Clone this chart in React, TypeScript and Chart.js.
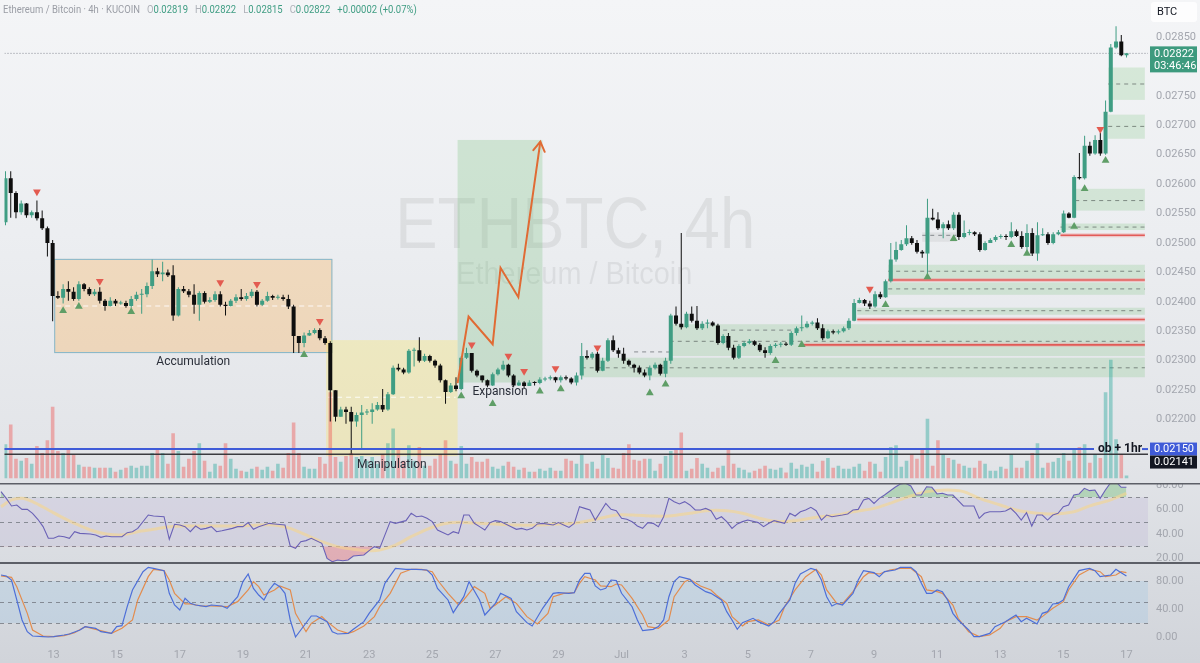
import React, { useEffect, useRef } from 'react';
import { Chart, registerables } from 'chart.js';

Chart.register(...registerables);

const FONT = 'Roboto, "Noto Sans", "DejaVu Sans", sans-serif';
Chart.defaults.font.family = FONT;

// ---------------- text ----------------
const SYMBOL = 'ETHBTC';
const INTERVAL = '4h';
const SYMBOL_DESC = 'Ethereum / Bitcoin';
const EXCHANGE = 'KUCOIN';
const QUOTE = 'BTC';
const HEADER_OHLC = [['O', '0.02819'], ['H', '0.02822'], ['L', '0.02815'], ['C', '0.02822']];
const HEADER_CHANGE = '+0.00002 (+0.07%)';
const COUNTDOWN = '03:46:46';
const DAY_LABELS = ['13', '15', '17', '19', '21', '23', '25', '27', '29', 'Jul', '3', '5', '7', '9', '11', '13', '15', '17'];
const OB_LABEL = 'ob + 1hr';
const PHASE_LABELS = ['Accumulation', 'Manipulation', 'Expansion'];

// ---------------- candles (4h, prices x 1e-5 BTC) ----------------
const FIRST_OPEN = 2535;
const CLOSE = [
  2610, 2585, 2552, 2567, 2547, 2552, 2542, 2525, 2500, 2410,
  2407, 2422, 2417, 2405, 2430, 2422, 2413, 2417, 2402, 2393,
  2402, 2397, 2398, 2393, 2405, 2412, 2413, 2427, 2452, 2447,
  2450, 2445, 2377, 2422, 2418, 2412, 2395, 2415, 2400, 2403,
  2413, 2395, 2393, 2402, 2408, 2405, 2410, 2417, 2395, 2402,
  2410, 2407, 2408, 2405, 2392, 2342, 2330, 2343, 2347, 2352,
  2338, 2330, 2250, 2205, 2217, 2213, 2197, 2208, 2212, 2213,
  2217, 2225, 2217, 2243, 2288, 2285, 2280, 2317, 2318, 2300,
  2308, 2300, 2292, 2267, 2247, 2258, 2252, 2305, 2313, 2283,
  2275, 2267, 2258, 2277, 2285, 2293, 2275, 2258, 2263, 2257,
  2263, 2262, 2268, 2270, 2272, 2267, 2272, 2270, 2263, 2275,
  2308, 2305, 2312, 2283, 2300, 2335, 2318, 2312, 2300, 2293,
  2288, 2280, 2275, 2288, 2293, 2278, 2300, 2377, 2363, 2357,
  2380, 2368, 2355, 2363, 2365, 2360, 2330, 2342, 2322, 2305,
  2325, 2330, 2333, 2327, 2318, 2313, 2325, 2327, 2328, 2327,
  2347, 2355, 2357, 2363, 2365, 2355, 2338, 2350, 2348, 2350,
  2355, 2368, 2398, 2403, 2397, 2392, 2413, 2408, 2435, 2472,
  2488, 2498, 2508, 2500, 2485, 2482, 2543, 2540, 2525, 2532,
  2525, 2548, 2510, 2517, 2518, 2515, 2488, 2500, 2505, 2510,
  2512, 2510, 2520, 2512, 2493, 2517, 2482, 2513, 2515, 2500,
  2515, 2518, 2550, 2543, 2612, 2610, 2665, 2652, 2675, 2652,
  2723, 2832, 2842, 2819, 2822,
];
const HIGH = [
  2622, 2622, 2588, 2572, 2568, 2555, 2572, 2555, 2528, 2505,
  2418, 2430, 2435, 2425, 2435, 2432, 2425, 2422, 2425, 2405,
  2408, 2405, 2402, 2402, 2410, 2417, 2422, 2433, 2472, 2458,
  2468, 2455, 2462, 2425, 2427, 2422, 2430, 2418, 2418, 2408,
  2418, 2418, 2400, 2405, 2413, 2422, 2415, 2422, 2420, 2405,
  2417, 2412, 2412, 2412, 2412, 2395, 2342, 2348, 2352, 2355,
  2355, 2342, 2333, 2250, 2222, 2222, 2222, 2212, 2225, 2218,
  2228, 2230, 2252, 2247, 2292, 2295, 2288, 2320, 2322, 2340,
  2312, 2310, 2302, 2295, 2268, 2262, 2272, 2308, 2322, 2313,
  2285, 2275, 2268, 2280, 2288, 2300, 2295, 2277, 2267, 2265,
  2267, 2265, 2272, 2273, 2275, 2273, 2275, 2275, 2272, 2280,
  2330, 2318, 2315, 2315, 2305, 2338, 2343, 2322, 2322, 2302,
  2295, 2292, 2285, 2292, 2297, 2295, 2305, 2380, 2392, 2517,
  2383, 2392, 2393, 2367, 2370, 2367, 2363, 2345, 2347, 2327,
  2328, 2333, 2337, 2335, 2330, 2323, 2328, 2330, 2332, 2332,
  2350, 2358, 2377, 2367, 2368, 2372, 2362, 2353, 2353, 2353,
  2358, 2372, 2405, 2407, 2405, 2402, 2418, 2417, 2438, 2500,
  2502, 2505, 2530, 2512, 2505, 2488, 2575, 2558, 2552, 2535,
  2538, 2552, 2552, 2538, 2523, 2520, 2518, 2503, 2508, 2513,
  2515, 2515, 2535, 2523, 2520, 2532, 2525, 2535, 2525, 2518,
  2518, 2522, 2555, 2552, 2615, 2653, 2682, 2672, 2683, 2687,
  2742, 2838, 2868, 2853, 2822,
];
const LOW = [
  2530, 2543, 2542, 2548, 2543, 2543, 2538, 2522, 2477, 2367,
  2405, 2397, 2402, 2402, 2402, 2418, 2410, 2410, 2397, 2385,
  2392, 2393, 2395, 2390, 2390, 2402, 2380, 2408, 2422, 2442,
  2435, 2442, 2368, 2375, 2415, 2408, 2380, 2368, 2397, 2398,
  2400, 2392, 2377, 2392, 2398, 2402, 2402, 2407, 2392, 2393,
  2400, 2403, 2404, 2402, 2388, 2313, 2313, 2323, 2342, 2345,
  2335, 2327, 2197, 2197, 2205, 2193, 2142, 2188, 2150, 2208,
  2193, 2215, 2213, 2215, 2242, 2282, 2277, 2278, 2290, 2297,
  2298, 2297, 2288, 2263, 2227, 2245, 2248, 2250, 2303, 2280,
  2272, 2263, 2255, 2257, 2275, 2283, 2272, 2255, 2257, 2253,
  2257, 2258, 2260, 2265, 2267, 2263, 2263, 2267, 2260, 2258,
  2268, 2302, 2302, 2280, 2282, 2298, 2315, 2305, 2295, 2290,
  2280, 2277, 2272, 2267, 2285, 2275, 2272, 2295, 2360, 2353,
  2355, 2365, 2352, 2352, 2355, 2358, 2327, 2328, 2318, 2302,
  2303, 2323, 2328, 2325, 2315, 2305, 2310, 2322, 2323, 2325,
  2325, 2343, 2350, 2355, 2360, 2352, 2335, 2337, 2345, 2345,
  2348, 2352, 2367, 2397, 2393, 2388, 2390, 2405, 2407, 2433,
  2468, 2487, 2495, 2497, 2482, 2475, 2442, 2538, 2522, 2508,
  2522, 2522, 2505, 2508, 2513, 2512, 2485, 2487, 2500, 2502,
  2507, 2505, 2508, 2510, 2490, 2482, 2478, 2470, 2512, 2497,
  2498, 2513, 2517, 2542, 2542, 2608, 2608, 2648, 2650, 2648,
  2650, 2722, 2830, 2817, 2815,
];
// volume (thousand ETH)
const VOLUME = [
  35, 55, 20, 18, 21, 15, 33, 26, 39, 73,
  28, 26, 29, 24, 14, 12, 12, 11, 11, 11,
  11, 7, 9, 11, 13, 11, 13, 13, 26, 29,
  26, 15, 46, 28, 12, 20, 28, 36, 18, 7,
  15, 13, 36, 20, 10, 8, 7, 10, 12, 9,
  12, 8, 15, 11, 26, 57, 26, 12, 10, 10,
  22, 15, 88, 22, 17, 23, 26, 22, 23, 18,
  22, 15, 25, 36, 51, 31, 18, 34, 18, 32,
  13, 13, 20, 25, 39, 18, 15, 33, 15, 22,
  17, 17, 20, 12, 10, 13, 17, 12, 9, 11,
  7, 7, 10, 8, 11, 8, 8, 20, 18, 15,
  25, 15, 17, 10, 24, 21, 11, 10, 26, 35,
  19, 18, 20, 20, 8, 15, 23, 28, 30, 47,
  8, 10, 21, 15, 11, 7, 11, 13, 30, 15,
  11, 9, 6, 8, 10, 13, 10, 9, 11, 6,
  16, 10, 14, 12, 15, 7, 18, 21, 11, 13,
  10, 10, 12, 15, 8, 17, 15, 7, 22, 32,
  34, 12, 18, 25, 20, 30, 61, 13, 39, 25,
  21, 19, 15, 13, 11, 11, 18, 15, 8, 8,
  12, 10, 25, 11, 11, 18, 26, 36, 11, 16,
  17, 21, 26, 18, 31, 32, 35, 16, 25, 21,
  88, 121, 40, 25, 3,
];
const VOL_AXIS_MAX = 483;

// ---------------- axes ----------------
const X_MIN = -0.19;
const X_MAX = 218.1;
const DAY_TICK_CANDLES = [10, 22, 34, 46, 58, 70, 82, 94, 106, 118, 130, 142, 154, 166, 178, 190, 202, 214];
const PRICE_MIN = 0.0210;
const PRICE_MAX = 0.02905;
const PRICE_TICKS = [0.022, 0.0225, 0.023, 0.0235, 0.024, 0.0245, 0.025, 0.0255, 0.026, 0.0265, 0.027, 0.0275, 0.0285];
const RSI_MIN = 17.14;
const RSI_MAX = 81.63;
const RSI_TICKS = [20, 40, 60, 80];
const RSI_LEVELS = [70, 50, 30];
const ST_MIN = -11.43;
const ST_MAX = 107.14;
const ST_TICKS = [0, 40, 80];
const ST_LEVELS = [80, 50, 20];

// ---------------- drawings (candle index, price x 1e-5) ----------------
// [startIdx, endIdx, top, bottom, midline]
const ACCUMULATION_BOX = [9.3, 62.4, 2473, 2313, 2393];
const MANIPULATION_BOX = [61.2, 86.3, 2335, 2138, 2238];
const EXPANSION_BOX = [86.3, 102.5, 2675, 2263];
const ARROW_PATH = [[86.3, 2262], [88.4, 2375], [93.0, 2328], [94.5, 2458], [97.9, 2408], [102.1, 2672]];
const SELL_SIGNALS = [[6, 2587], [18, 2435], [41, 2433], [48, 2430], [60, 2367], [89, 2327], [96, 2308], [99, 2282], [105, 2287], [113, 2322], [165, 2422], [209, 2693]];
const BUY_SIGNALS = [[11, 2385], [14, 2392], [24, 2383], [57, 2310], [87, 2240], [93, 2227], [102, 2248], [106, 2252], [123, 2245], [126, 2260], [147, 2300], [152, 2327], [168, 2395], [176, 2442], [181, 2507], [192, 2497], [195, 2482], [204, 2528], [206, 2592], [210, 2640]];
const ZONE_END = 217.5;
const ZONE_START = [110, 126.8, 162.6, 168.5, 168.5, 201.4, 204.2, 210.5, 210.5];
const ZONE_TOP = [2305, 2362, 2390, 2433, 2463, 2533, 2592, 2718, 2798];
const ZONE_BOTTOM = [2272, 2308, 2378, 2412, 2438, 2522, 2555, 2677, 2743];
const ZONE_MID = [2288, 2333, 2385, 2422, 2452, 2527, 2572, 2698, 2770];
const RED_START = [151.9, 162.6, 168.5, 201.4];
const RED_LEVEL = [2327, 2370, 2437, 2513];
const DASH_SEGMENTS = [[120, 126.8, 2315], [137, 152, 2352]];
const GRAY_ZONE = [175, 181.5, 2518, 2502, 2513];
const LAST_PRICE = 2822;
const OB_LEVEL = 2150;
const OB_LEVEL_2 = 2141;

// ---------------- RSI & Stoch RSI [candle index, value] ----------------
const RSI = [[0,74.6],[1,69.1],[2,62.9],[3,63.7],[4,60.1],[5,60.1],[6,56.9],[7,52],[8,46],[9,36.5],[10,36.5],[11,38.4],[12,37.8],[13,36.5],[14,41.9],[15,40.5],[17,40],[18,39.2],[19,37.3],[20,38.4],[21,37.8],[23,37.8],[24,41.1],[25,41.9],[26,44.6],[28,55.5],[29,54.7],[31,54.1],[32,35.7],[33,47.9],[34,47.3],[35,46],[36,41.9],[37,46.5],[38,43.8],[39,44.6],[40,46],[41,41.9],[42,42.7],[44,44.6],[45,46],[46,46],[47,49.3],[48,43.8],[49,46],[51,48.7],[52,48.2],[54,47.3],[55,30.2],[56,28.3],[57,33.7],[58,34.6],[59,36.5],[61,32.4],[62,20.1],[63,17.4],[64,18.8],[65,18.2],[66,18.8],[67,22],[69,22.9],[70,26.4],[71,29.7],[72,28.3],[74,50.1],[75,48.7],[77,50.9],[78,56.9],[79,54.1],[80,54.7],[81,52.8],[82,50.1],[83,43.3],[85,39.2],[86,41.9],[87,40.5],[88,55.5],[89,55.5],[90,48.7],[91,46],[92,43.3],[93,49.3],[94,50.9],[95,50.1],[97,46],[98,43.8],[99,44.6],[100,43.3],[101,44.6],[102,48.2],[103,48.7],[105,47.3],[106,49.3],[107,47.3],[108,45.4],[109,48.7],[110,62.3],[111,60.9],[112,59.6],[113,51.4],[114,58.2],[115,65],[116,60.1],[117,59],[118,52.8],[119,52],[120,50.1],[121,46.5],[122,44.6],[123,49.3],[124,48.7],[125,46],[126,54.1],[127,69.1],[128,66.4],[129,64.5],[130,66.4],[131,63.7],[132,59.6],[133,59.6],[134,60.9],[135,59],[136,52],[137,54.1],[138,50.1],[139,44.6],[140,48.2],[141,50.1],[142,51.4],[144,49.3],[145,46],[146,48.7],[147,50.9],[149,48.7],[150,56.9],[151,54.7],[152,58.2],[153,59.6],[154,61.8],[155,59],[156,51.4],[157,55.5],[158,54.1],[160,55.5],[161,56.3],[162,59.6],[163,60.1],[164,67.8],[165,69.1],[166,65],[167,69.1],[168,71.8],[170,78.1],[171,80.8],[172,81.4],[173,79.2],[174,71.8],[175,71.8],[176,78.6],[177,78.1],[178,72.7],[179,73.2],[180,71.8],[181,71.8],[183,62.9],[184,62.9],[185,62.9],[186,52.8],[187,56.9],[188,58.2],[190,58.2],[191,58.8],[192,61],[193,56.9],[194,51.4],[195,57.4],[196,46.5],[197,55.5],[198,55.5],[199,51.4],[200,55.5],[201,56.9],[202,62.3],[203,63.7],[204,71.8],[205,72.7],[206,77.3],[207,75.4],[208,75.9],[209,69.1],[210,75.9],[211,81.9],[212,82.7],[213,78.1],[214,78.1]];
const RSI_MA = [[0,62.3],[2,67.8],[4,69.1],[6,66.4],[9,59.6],[12,52.8],[14,48.7],[17,43.3],[20,40],[23,39.2],[26,41.9],[29,43.8],[32,46],[36,46.5],[40,46.5],[45,46.5],[49,47.3],[52,47.3],[55,44.6],[58,39.2],[61,33.7],[64,29.7],[67,27.5],[70,26.4],[72,26.9],[75,31],[78,37.8],[81,43.8],[84,48.2],[87,49.5],[91,48.7],[94,48.2],[98,47.3],[102,47.3],[105,47.9],[109,48.7],[114,52.8],[117,55.5],[120,55.5],[124,54.7],[127,54.7],[131,56.9],[134,59],[138,59],[141,56.9],[145,52],[148,50.1],[152,51.4],[155,53.6],[159,55.5],[162,58.2],[166,60.9],[169,65],[173,71],[176,74.6],[180,75.9],[183,74.6],[186,69.1],[190,63.7],[193,59.6],[197,56.9],[200,56.3],[204,58.2],[207,62.9],[211,67.8],[214,73.2]];
const STOCH_K = [[0,88.6],[1,87.2],[2,81.4],[3,52.9],[4,24.3],[5,7.6],[6,1.4],[8,0.5],[9,0],[10,0.5],[12,2.9],[13,4.3],[15,10],[16,14.8],[18,12.4],[19,7.6],[21,5.2],[22,14.8],[23,16.2],[24,43.3],[25,67.2],[27,93.3],[28,99.5],[29,98.1],[31,94.8],[32,62.4],[33,45.7],[34,38.6],[35,55.2],[36,48.1],[37,45.7],[39,43.3],[40,45.7],[42,44.3],[43,41],[45,57.6],[46,79.1],[47,90],[48,69.5],[49,60],[50,52.9],[51,67.2],[52,76.7],[53,71.9],[54,62.4],[55,24.3],[56,0],[57,10],[59,30],[60,30],[62,21.9],[63,7.6],[64,4.3],[66,5.2],[67,11],[69,21.9],[70,33.8],[72,52.9],[73,76.7],[75,98.1],[77,96.7],[79,96.7],[81,95.7],[82,88.6],[83,69.5],[85,52.9],[86,34.8],[88,57.6],[89,79.1],[91,52.9],[92,31.4],[94,48.1],[95,62.4],[97,55.2],[98,36.2],[100,20.5],[101,15.7],[103,41],[105,62.4],[106,63.3],[108,62.4],[109,63.3],[110,81.4],[111,91],[112,91],[113,72.9],[114,67.2],[115,69.5],[116,81.4],[117,80.5],[118,62.4],[120,43.3],[121,24.3],[122,9],[124,11],[125,14.8],[126,24.3],[127,57.6],[128,79.1],[129,86.2],[131,82.4],[132,74.3],[134,64.8],[135,62.4],[137,52.9],[138,36.2],[139,24.3],[140,11],[141,20.5],[143,26.7],[144,21.9],[146,15.7],[147,21.9],[148,33.8],[150,52.9],[151,76.7],[152,90],[154,98.1],[155,95.7],[156,81.4],[157,57.6],[158,44.3],[159,48.1],[160,45.7],[162,62.4],[163,81.4],[164,94.8],[165,93.3],[166,91.9],[167,86.2],[168,93.3],[170,95.7],[171,99.5],[173,99.5],[174,93.3],[175,76.7],[176,62.4],[177,62.4],[178,67.2],[179,64.8],[180,52.9],[181,33.8],[182,24.3],[184,10],[185,0.5],[186,0.5],[188,5.2],[189,14.8],[191,21.9],[192,26.7],[193,31.4],[194,21.9],[195,26.7],[197,18.6],[198,33.8],[199,36.2],[200,47.2],[201,48.1],[202,52.9],[203,71.9],[205,94.8],[206,96.7],[207,98.1],[208,94.8],[209,86.2],[211,88.6],[212,96.7],[213,91.9],[214,87.2]];
const STOCH_D = [[0,87.2],[2,85.3],[3,71.9],[5,33.8],[6,10],[8,1.4],[10,0.5],[12,1.9],[14,6.2],[16,14.8],[18,11],[21,5.2],[23,12.4],[25,24.3],[26,52.9],[28,86.2],[29,96.7],[31,94.8],[32,81.4],[33,62.4],[35,47.2],[36,47.2],[38,44.3],[40,44.3],[43,43.3],[45,50.5],[47,67.2],[48,79.1],[49,71.9],[50,60],[52,67.2],[53,72.9],[55,67.2],[56,33.8],[58,7.6],[59,19.5],[61,29.1],[62,21.9],[64,10],[66,5.2],[67,7.6],[69,15.7],[71,29.1],[72,43.3],[74,62.4],[76,91],[78,96.7],[80,96.7],[82,93.3],[83,81.4],[85,62.4],[87,45.7],[88,52.9],[90,71.9],[92,62.4],[93,41],[94,45.7],[96,57.6],[98,48.1],[100,29.1],[102,18.6],[104,33.8],[105,57.6],[107,62.4],[109,63.3],[110,76.7],[111,86.2],[113,81.4],[114,72.9],[116,71.9],[117,75.7],[118,74.3],[120,55.2],[122,31.4],[123,14.8],[125,12.4],[127,24.3],[128,57.6],[130,79.1],[131,82.4],[133,72.9],[135,67.2],[136,60],[138,48.1],[139,29.1],[141,15.7],[142,21.9],[144,24.3],[146,17.1],[148,24.3],[149,43.3],[151,67.2],[153,86.2],[155,96.7],[156,88.6],[157,67.2],[159,47.2],[160,47.2],[162,64.8],[164,86.2],[165,91.9],[167,90],[169,95.7],[171,98.1],[173,98.1],[175,86.2],[176,67.2],[178,64.8],[179,62.4],[181,45.7],[182,26.7],[184,7.6],[186,0.5],[188,2.9],[190,12.4],[191,21.9],[193,29.1],[195,29.1],[197,24.3],[198,29.1],[200,41],[202,50.5],[203,67.2],[205,88.6],[207,96.7],[209,93.3],[210,86.2],[212,88.6],[213,93.3],[214,91.9]];

// ---------------- styling ----------------
const AXIS_COLOR = '#a3a6ae';
const UP = '#3f9d83';
const DOWN = '#0e0e0e';
const VOL_UP = 'rgba(38,166,154,0.42)';
const VOL_DOWN = 'rgba(239,83,80,0.42)';

const E5 = (v: number) => v / 1e5;
const OPEN = CLOSE.map((_, i) => (i === 0 ? FIRST_OPEN : CLOSE[i - 1]));
const isUp = (i: number) => CLOSE[i] >= OPEN[i];
const pts = (arr: number[][], scale = 1) => arr.map(([x, y]) => ({ x, y: y * scale }));

function rightAxis(min: number, max: number, ticks: number[], digits: number): any {
  return {
    position: 'right', min, max, bounds: 'data',
    grid: { display: false, drawTicks: false },
    border: { display: false },
    ticks: { color: AXIS_COLOR, font: { size: 11, family: FONT }, padding: 8, callback: (v: any) => Number(v).toFixed(digits) },
    afterBuildTicks: (s: any) => { s.ticks = ticks.map((v) => ({ value: v })); },
    afterFit: (s: any) => { s.width = 52; s.paddingTop = 0; s.paddingBottom = 0; },
  };
}
const hiddenX: any = { type: 'linear', min: X_MIN, max: X_MAX, display: false, bounds: 'data', offset: false, grid: { offset: false } };

function hline(ctx: any, x0: number, x1: number, y: number, color: string, width: number, dash: number[] = []) {
  ctx.save();
  ctx.strokeStyle = color; ctx.lineWidth = width; ctx.setLineDash(dash);
  ctx.beginPath(); ctx.moveTo(x0, y); ctx.lineTo(x1, y); ctx.stroke();
  ctx.restore();
}
function fitText(ctx: any, text: string, cx: number, baseline: number, targetW: number, font: string) {
  ctx.save();
  ctx.font = font;
  const w = ctx.measureText(text).width;
  ctx.translate(cx, baseline);
  ctx.scale(targetW / w, 1);
  ctx.textAlign = 'center'; ctx.textBaseline = 'alphabetic';
  ctx.fillText(text, 0, 0);
  ctx.restore();
}

const mainDecor: any = {
  id: 'mainDecor',
  beforeDatasetsDraw(chart: any) {
    const { ctx, chartArea: ca } = chart;
    const px = (i: number) => chart.scales.x.getPixelForValue(i);
    const py = (v: number) => chart.scales.y.getPixelForValue(E5(v));
    ctx.save();
    ctx.beginPath(); ctx.rect(ca.left, ca.top, ca.right - ca.left, ca.bottom - ca.top); ctx.clip();
    // watermark
    const cx = (ca.left + ca.right) / 2;
    ctx.fillStyle = 'rgba(0,0,0,0.065)';
    fitText(ctx, `${SYMBOL}, ${INTERVAL}`, cx - 1, 248, 360, `72px "Liberation Sans", Arial, sans-serif`);
    fitText(ctx, SYMBOL_DESC, cx - 2, 284, 236, `32px "Liberation Sans", Arial, sans-serif`);

    // phase boxes
    const box = (b: number[], fill: string, stroke: string | null) => {
      const x0 = px(b[0]), x1 = px(b[1]), y0 = py(b[2]), y1 = py(b[3]);
      ctx.fillStyle = fill; ctx.fillRect(x0, y0, x1 - x0, y1 - y0);
      if (stroke) { ctx.strokeStyle = stroke; ctx.lineWidth = 1; ctx.strokeRect(x0 + 0.5, y0 + 0.5, x1 - x0 - 1, y1 - y0 - 1); }
      if (b.length > 4) hline(ctx, x0 + 2, x1 - 2, py(b[4]), 'rgba(255,255,255,0.85)', 1.2, [5, 4]);
    };
    box(ACCUMULATION_BOX, 'rgba(255,160,40,0.25)', 'rgba(120,180,205,0.9)');
    box(MANIPULATION_BOX, 'rgba(255,230,80,0.28)', null);
    box(EXPANSION_BOX, 'rgba(76,175,80,0.2)', null);

    // order-block zones
    const xe = px(ZONE_END);
    ZONE_START.forEach((s, k) => {
      const x0 = px(s), y0 = py(ZONE_TOP[k]), y1 = py(ZONE_BOTTOM[k]);
      ctx.fillStyle = 'rgba(76,175,80,0.17)';
      ctx.fillRect(x0, y0, xe - x0, y1 - y0);
      hline(ctx, x0, xe, py(ZONE_MID[k]), 'rgba(95,105,100,0.75)', 1, [4, 4]);
    });
    {
      const [s, e, t, b, m] = GRAY_ZONE;
      ctx.fillStyle = 'rgba(140,140,140,0.13)';
      ctx.fillRect(px(s), py(t), px(e) - px(s), py(b) - py(t));
      hline(ctx, px(s), px(e), py(m), 'rgba(95,100,105,0.7)', 1, [4, 4]);
    }
    DASH_SEGMENTS.forEach(([s, e, v]) => hline(ctx, px(s), px(e), py(v), 'rgba(95,100,105,0.7)', 1, [4, 4]));
    RED_START.forEach((s, k) => {
      hline(ctx, px(s), xe, py(RED_LEVEL[k]), 'rgba(240,150,150,0.45)', 4);
      hline(ctx, px(s), xe, py(RED_LEVEL[k]), 'rgba(225,80,75,0.9)', 1.6);
    });
    // last price dotted line
    hline(ctx, ca.left, ca.right, py(LAST_PRICE), 'rgba(110,115,125,0.8)', 1, [1, 2]);
    ctx.restore();
  },
  afterDatasetsDraw(chart: any) {
    const { ctx, chartArea: ca } = chart;
    const px = (i: number) => chart.scales.x.getPixelForValue(i);
    const py = (v: number) => chart.scales.y.getPixelForValue(E5(v));
    ctx.save();
    // ob levels
    const yb = py(OB_LEVEL);
    hline(ctx, ca.left, ca.right - 54, yb, '#3f5bd8', 2);
    hline(ctx, ca.right - 6, ca.right, yb, '#3f5bd8', 2);
    hline(ctx, ca.left, ca.right, py(OB_LEVEL_2), 'rgba(40,40,45,0.9)', 1.5);
    ctx.font = `bold 12px ${FONT}`;
    ctx.fillStyle = '#131722';
    ctx.textAlign = 'left'; ctx.textBaseline = 'middle';
    ctx.fillText(OB_LABEL, ca.right - 50, yb);

    // arrow head
    const n = ARROW_PATH.length;
    const [ax, ay] = [px(ARROW_PATH[n - 1][0]), py(ARROW_PATH[n - 1][1])];
    const [bx, by] = [px(ARROW_PATH[n - 2][0]), py(ARROW_PATH[n - 2][1])];
    const ang = Math.atan2(ay - by, ax - bx);
    ctx.strokeStyle = '#e06b34'; ctx.lineWidth = 2; ctx.lineCap = 'round';
    ctx.beginPath();
    ctx.moveTo(ax - 11 * Math.cos(ang - 0.55), ay - 11 * Math.sin(ang - 0.55));
    ctx.lineTo(ax, ay);
    ctx.lineTo(ax - 11 * Math.cos(ang + 0.55), ay - 11 * Math.sin(ang + 0.55));
    ctx.stroke();

    // phase labels
    ctx.font = `12px ${FONT}`;
    ctx.fillStyle = '#2a2e39';
    ctx.textAlign = 'center';
    [ACCUMULATION_BOX, MANIPULATION_BOX, EXPANSION_BOX].forEach((b, k) => {
      ctx.fillText(PHASE_LABELS[k], (px(b[0]) + px(b[1])) / 2, py(b[3]) + 9);
    });
    ctx.restore();
  },
  afterDraw(chart: any) {
    const { ctx, chartArea: ca } = chart;
    const py = (v: number) => chart.scales.y.getPixelForValue(E5(v));
    ctx.save();
    // header (slightly condensed, like the original UI font)
    ctx.font = `11px ${FONT}`;
    ctx.textBaseline = 'middle'; ctx.textAlign = 'left';
    ctx.save();
    ctx.translate(3, 0);
    ctx.scale(0.86, 1);
    let hx = 0;
    const put = (t: string, c: string) => { ctx.fillStyle = c; ctx.fillText(t, hx, 10); hx += ctx.measureText(t).width; };
    put(`${SYMBOL_DESC} · ${INTERVAL} · ${EXCHANGE}`, '#9a9da5');
    HEADER_OHLC.forEach(([k, v]) => { put(`   ${k}`, '#aeb1b8'); put(v, UP); });
    put(`   ${HEADER_CHANGE}`, UP);
    ctx.restore();

    // right axis badges
    const bx = ca.right + 2;
    ctx.fillStyle = 'rgba(255,255,255,0.8)';
    ctx.beginPath(); ctx.roundRect(bx + 1, 2, 46, 20, 3); ctx.fill();
    ctx.fillStyle = '#131722'; ctx.font = `11px ${FONT}`;
    ctx.fillText(QUOTE, bx + 7, 12.5);

    const yl = py(LAST_PRICE);
    ctx.fillStyle = '#3d9a7e';
    ctx.fillRect(bx, yl - 7, 47, 26);
    ctx.fillStyle = '#ffffff';
    ctx.fillText(E5(LAST_PRICE).toFixed(5), bx + 4, yl + 0.5);
    ctx.fillText(COUNTDOWN, bx + 4, yl + 12.5);

    const yb = py(OB_LEVEL);
    ctx.fillStyle = '#3f5bd8';
    ctx.fillRect(bx, yb - 6.5, 47, 13);
    ctx.fillStyle = '#ffffff';
    ctx.fillText(E5(OB_LEVEL).toFixed(5), bx + 4, yb);
    ctx.fillStyle = '#131722';
    ctx.fillRect(bx, yb + 6.5, 47, 13);
    ctx.fillStyle = '#ffffff';
    ctx.fillText(E5(OB_LEVEL_2).toFixed(5), bx + 4, yb + 13);
    ctx.restore();
  },
};

function paneDecor(id: string, band: number[], bandColor: string, levels: number[], sepWidth: number): any {
  return {
    id,
    beforeDatasetsDraw(chart: any) {
      const { ctx, chartArea: ca } = chart;
      const py = (v: number) => chart.scales.y.getPixelForValue(v);
      ctx.save();
      ctx.fillStyle = bandColor;
      ctx.fillRect(ca.left, py(band[0]), ca.right - ca.left, py(band[1]) - py(band[0]));
      levels.forEach((l) => hline(ctx, ca.left, ca.right, Math.round(py(l)) + 0.5, 'rgba(110,113,122,0.75)', 1, [4, 4]));
      ctx.restore();
    },
    afterDraw(chart: any) {
      const { ctx } = chart;
      ctx.save();
      ctx.fillStyle = '#5c5f67';
      ctx.fillRect(0, 0, chart.width, sepWidth);
      ctx.restore();
    },
  };
}

function mainConfig(): any {
  const n = CLOSE.length;
  const idx = Array.from({ length: n }, (_, i) => i);
  return {
    type: 'bar',
    data: {
      datasets: [
        { type: 'line', label: 'path', data: pts(ARROW_PATH, 1e-5), borderColor: '#e06b34', borderWidth: 2, pointRadius: 0, tension: 0, yAxisID: 'y', order: 0 },
        { type: 'line', label: 'sell', data: pts(SELL_SIGNALS, 1e-5), showLine: false, pointStyle: 'triangle', rotation: 180, pointRadius: 4.5, pointBackgroundColor: '#e35b50', pointBorderWidth: 0, yAxisID: 'y', order: 1 },
        { type: 'line', label: 'buy', data: pts(BUY_SIGNALS, 1e-5), showLine: false, pointStyle: 'triangle', rotation: 0, pointRadius: 4.5, pointBackgroundColor: '#5f9e67', pointBorderWidth: 0, yAxisID: 'y', order: 1 },
        { type: 'bar', label: 'body', data: idx.map((i) => ({ x: i, y: [E5(OPEN[i]), E5(CLOSE[i])] })), backgroundColor: idx.map((i) => (isUp(i) ? UP : DOWN)), barThickness: 4, minBarLength: 1, grouped: false, inflateAmount: 0, yAxisID: 'y', order: 2 },
        { type: 'bar', label: 'wick', data: idx.map((i) => ({ x: i, y: [E5(LOW[i]), E5(HIGH[i])] })), backgroundColor: idx.map((i) => (isUp(i) ? UP : DOWN)), barThickness: 1, grouped: false, inflateAmount: 0, yAxisID: 'y', order: 3 },
        { type: 'bar', label: 'volume', data: idx.map((i) => ({ x: i, y: VOLUME[i] })), backgroundColor: idx.map((i) => (isUp(i) ? VOL_UP : VOL_DOWN)), barThickness: 3.6, grouped: false, inflateAmount: 0, yAxisID: 'v', order: 4 },
      ],
    },
    options: {
      responsive: false, animation: false, devicePixelRatio: 1, events: [],
      layout: { padding: 0 },
      plugins: { legend: { display: false }, tooltip: { enabled: false } },
      scales: {
        x: hiddenX,
        y: rightAxis(PRICE_MIN, PRICE_MAX, PRICE_TICKS, 5),
        v: { type: 'linear', display: false, min: 0, max: VOL_AXIS_MAX, bounds: 'data' },
      },
    },
    plugins: [mainDecor],
  };
}

function rsiConfig(): any {
  const none = 'rgba(0,0,0,0)';
  return {
    type: 'line',
    data: {
      datasets: [
        { data: pts(RSI), borderColor: '#6a61b6', borderWidth: 1.1, pointRadius: 0, tension: 0, order: 0 },
        { data: pts(RSI_MA), borderColor: 'rgba(246,214,140,0.6)', borderWidth: 3, pointRadius: 0, tension: 0.3, order: 1 },
        { data: pts(RSI), borderColor: none, borderWidth: 0, pointRadius: 0, fill: { target: { value: 70 }, above: 'rgba(76,175,80,0.3)', below: none }, order: 2 },
        { data: pts(RSI), borderColor: none, borderWidth: 0, pointRadius: 0, fill: { target: { value: 30 }, above: none, below: 'rgba(242,54,69,0.28)' }, order: 3 },
      ],
    },
    options: {
      responsive: false, animation: false, devicePixelRatio: 1, events: [],
      layout: { padding: 0 },
      plugins: { legend: { display: false }, tooltip: { enabled: false } },
      scales: { x: hiddenX, y: rightAxis(RSI_MIN, RSI_MAX, RSI_TICKS, 2) },
    },
    plugins: [paneDecor('rsiDecor', [RSI_LEVELS[0], RSI_LEVELS[2]], 'rgba(126,87,194,0.09)', RSI_LEVELS, 1.5)],
  };
}

function stochConfig(): any {
  return {
    type: 'line',
    data: {
      datasets: [
        { data: pts(STOCH_K), borderColor: '#4d6fd8', borderWidth: 1.2, pointRadius: 0, tension: 0, order: 0 },
        { data: pts(STOCH_D), borderColor: '#e28c4e', borderWidth: 1.2, pointRadius: 0, tension: 0, order: 1 },
      ],
    },
    options: {
      responsive: false, animation: false, devicePixelRatio: 1, events: [],
      layout: { padding: 0 },
      plugins: { legend: { display: false }, tooltip: { enabled: false } },
      scales: {
        x: {
          type: 'linear', min: X_MIN, max: X_MAX, bounds: 'data', position: 'bottom', offset: false,
          grid: { display: false, drawTicks: false }, border: { display: false },
          ticks: { color: AXIS_COLOR, font: { size: 11, family: FONT }, padding: 4, maxRotation: 0, autoSkip: false, callback: (_v: any, i: number) => DAY_LABELS[i] },
          afterBuildTicks: (s: any) => { s.ticks = DAY_TICK_CANDLES.map((v) => ({ value: v })); },
          afterFit: (s: any) => { s.height = 18; s.paddingLeft = 0; s.paddingRight = 0; },
        },
        y: rightAxis(ST_MIN, ST_MAX, ST_TICKS, 2),
      },
    },
    plugins: [paneDecor('stDecor', [ST_LEVELS[0], ST_LEVELS[2]], 'rgba(33,150,243,0.09)', ST_LEVELS, 2)],
  };
}

export default function App() {
  const mainRef = useRef<HTMLCanvasElement>(null);
  const rsiRef = useRef<HTMLCanvasElement>(null);
  const stRef = useRef<HTMLCanvasElement>(null);
  useEffect(() => {
    const charts = [
      new Chart(mainRef.current as HTMLCanvasElement, mainConfig()),
      new Chart(rsiRef.current as HTMLCanvasElement, rsiConfig()),
      new Chart(stRef.current as HTMLCanvasElement, stochConfig()),
    ];
    return () => charts.forEach((c) => c.destroy());
  }, []);
  const cs: any = { position: 'absolute', left: 0, width: 1200 };
  return (
    <div style={{ position: 'fixed', left: 0, top: 0, width: 1200, height: 663, overflow: 'hidden', background: 'linear-gradient(to bottom, #f4f5f7 0%, #eceef1 35%, #e2e4e8 70%, #d9dce1 85%, #d1d4da 100%)' }}>
      <canvas ref={mainRef} width={1200} height={483} style={{ ...cs, top: 0, height: 483 }} />
      <canvas ref={rsiRef} width={1200} height={79} style={{ ...cs, top: 483, height: 79 }} />
      <canvas ref={stRef} width={1200} height={101} style={{ ...cs, top: 562, height: 101 }} />
    </div>
  );
}
